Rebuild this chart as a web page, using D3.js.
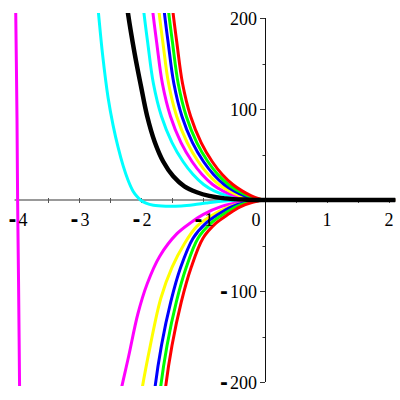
<!DOCTYPE html>
<html>
<head>
<meta charset="utf-8">
<script src="https://cdn.jsdelivr.net/npm/d3@7"></script>
<style>
  body { margin: 0; background: #fff; }
  text { font-family: "Liberation Serif", "DejaVu Serif", serif; font-size: 18px; fill: #000; }
</style>
</head>
<body>
<svg id="vis" width="400" height="400"></svg>
<script>
// tick values
const xTicks = [-4, -3, -2, -1, 0, 1, 2];
const xMinor = [-3.5, -2.5, -1.5, -0.5, 0.5, 1.5];
const yTicks = [-200, -100, 100, 200];
const yMinor = [-150, -50, 50, 150];

// curves, [x, y]
const redUp = [[-1.53, 240], [-1.49, 210], [-1.42, 172], [-1.33, 128], [-1.2, 92], [-1.03, 63], [-0.85, 42], [-0.69, 28], [-0.52, 17], [-0.37, 10], [-0.22, 4.5], [-0.1, 1.5], [0, 0], [0.4, 0], [2.1, 0]];
const greenUp = [[-1.6, 240], [-1.56, 210], [-1.49, 172], [-1.4, 128], [-1.27, 92], [-1.1, 63], [-0.92, 42], [-0.76, 28], [-0.59, 17], [-0.43, 10], [-0.27, 4.5], [-0.13, 1.5], [0, 0], [0.4, 0], [2.1, 0]];
const blueUp = [[-1.67, 240], [-1.63, 210], [-1.56, 172], [-1.47, 128], [-1.34, 92], [-1.17, 63], [-0.99, 42], [-0.83, 28], [-0.66, 17], [-0.5, 10], [-0.33, 4.5], [-0.17, 1.5], [0, 0], [0.4, 0], [2.1, 0]];
const yellowUp = [[-1.76, 240], [-1.715, 210], [-1.645, 172], [-1.555, 128], [-1.425, 92], [-1.255, 63], [-1.075, 42], [-0.915, 28], [-0.745, 17], [-0.58, 10], [-0.4, 4.5], [-0.22, 1.5], [0, 0], [0.4, 0], [2.1, 0]];
const magentaUp = [[-1.86, 240], [-1.815, 210], [-1.745, 172], [-1.655, 128], [-1.525, 92], [-1.355, 63], [-1.175, 42], [-1.015, 28], [-0.845, 17], [-0.68, 10], [-0.48, 4.5], [-0.28, 1.5], [0, 0], [0.4, 0], [2.1, 0]];
const cyanUp = [[-2.0, 240], [-1.96, 210], [-1.89, 172], [-1.8, 128], [-1.67, 92], [-1.5, 63], [-1.32, 42], [-1.16, 28], [-0.99, 17], [-0.82, 10], [-0.6, 4.5], [-0.35, 1.5], [0, 0], [0.4, 0], [2.1, 0]];
const blackUp = [[-2.27, 240], [-2.22, 210], [-2.1, 160], [-2.0, 125], [-1.9, 92], [-1.78, 64], [-1.64, 42], [-1.48, 26], [-1.3, 15], [-1.1, 8.5], [-0.9, 4.5], [-0.65, 1.8], [-0.3, 0.4], [0, 0], [0.4, 0], [2.1, 0]];

const cyanLeft = [[-2.74, 240], [-2.7, 215], [-2.62, 160], [-2.53, 112], [-2.45, 82], [-2.37, 58], [-2.29, 38], [-2.21, 22], [-2.13, 10], [-2.06, 3.5], [-2.0, -0.5], [-1.92, -3.5], [-1.8, -5.8], [-1.6, -6.8], [-1.35, -6.5], [-1.15, -5.2], [-0.95, -3.3], [-0.75, -1.6], [-0.55, -0.6], [-0.3, -0.1], [0, 0], [0.4, 0], [2.1, 0]];
const magentaLeft = [[-4.025, 230], [-4.0, 90], [-3.99, 0], [-3.975, -90], [-3.955, -230]];

const redDown = [[-1.65, -240], [-1.62, -215], [-1.5, -160], [-1.35, -112], [-1.19, -74], [-1.0, -42], [-0.8, -26], [-0.6, -16], [-0.4, -7.5], [-0.2, -2.5], [0, 0], [0.4, 0], [2.1, 0]];
const greenDown = [[-1.73, -240], [-1.7, -215], [-1.58, -160], [-1.43, -112], [-1.27, -74], [-1.08, -42], [-0.88, -26], [-0.68, -16], [-0.47, -7.5], [-0.25, -2.5], [0, 0], [0.4, 0], [2.1, 0]];
const blueDown = [[-1.82, -240], [-1.79, -215], [-1.67, -160], [-1.52, -112], [-1.36, -74], [-1.16, -42], [-0.96, -26], [-0.76, -16], [-0.54, -7.5], [-0.3, -2.5], [0, 0], [0.4, 0], [2.1, 0]];
const yellowDown = [[-2.04, -240], [-2.0, -215], [-1.85, -160], [-1.68, -108], [-1.5, -74], [-1.3, -48], [-1.1, -29], [-0.86, -17], [-0.6, -8], [-0.3, -2.5], [0, 0], [0.4, 0], [2.1, 0]];
const magentaDown = [[-2.4, -240], [-2.34, -215], [-2.2, -172], [-2.05, -125], [-1.9, -92], [-1.7, -62], [-1.42, -37], [-1.2, -25], [-1.0, -16], [-0.7, -7], [-0.4, -2.5], [0, 0], [0.4, 0], [2.1, 0]];

const series = [
  { pts: magentaLeft, color: "#ff00ff", width: 3 },
  { pts: cyanLeft, color: "#00ffff", width: 3 },
  { pts: magentaDown, color: "#ff00ff", width: 3 },
  { pts: yellowDown, color: "#ffff00", width: 3 },
  { pts: blueDown, color: "#0000ff", width: 3 },
  { pts: greenDown, color: "#00ff00", width: 3 },
  { pts: redDown, color: "#ff0000", width: 3 },
  { pts: cyanUp, color: "#00ffff", width: 3 },
  { pts: magentaUp, color: "#ff00ff", width: 3 },
  { pts: yellowUp, color: "#ffff00", width: 3 },
  { pts: blueUp, color: "#0000ff", width: 3 },
  { pts: greenUp, color: "#00ff00", width: 3 },
  { pts: redUp, color: "#ff0000", width: 3 },
  { pts: blackUp, color: "#000000", width: 4.5 }
];

const svg = d3.select("svg#vis");

const x = d3.scaleLinear().domain([-4, 2]).range([17, 389]);
const y = d3.scaleLinear().domain([-200, 200]).range([382, 18]);

// axes
svg.append("line")
  .attr("x1", x(-4.04)).attr("x2", x(2.1))
  .attr("y1", y(0)).attr("y2", y(0))
  .attr("stroke", "#777").attr("stroke-width", 1.6);

svg.append("line")
  .attr("x1", x(0) + 0.5).attr("x2", x(0) + 0.5)
  .attr("y1", y(200)).attr("y2", y(-200))
  .attr("stroke", "#111").attr("stroke-width", 1);

svg.selectAll("line.xtick")
  .data(xTicks.concat(xMinor).filter(d => d !== 0))
  .enter().append("line")
  .attr("class", "xtick")
  .attr("x1", d => Math.round(x(d)) + 0.5).attr("x2", d => Math.round(x(d)) + 0.5)
  .attr("y1", y(0) - 2).attr("y2", y(0) + 3)
  .attr("stroke", "#555");

svg.selectAll("line.ytick")
  .data(yTicks)
  .enter().append("line")
  .attr("class", "ytick")
  .attr("x1", x(0) - 5).attr("x2", x(0))
  .attr("y1", d => Math.round(y(d)) + 0.5).attr("y2", d => Math.round(y(d)) + 0.5)
  .attr("stroke", "#333");

svg.selectAll("line.yminor")
  .data(yMinor)
  .enter().append("line")
  .attr("class", "yminor")
  .attr("x1", x(0) - 2.5).attr("x2", x(0))
  .attr("y1", d => Math.round(y(d)) + 0.5).attr("y2", d => Math.round(y(d)) + 0.5)
  .attr("stroke", "#333");

// curves
svg.append("clipPath").attr("id", "plotclip")
  .append("rect").attr("x", 0).attr("y", 13).attr("width", 400).attr("height", 373);

const line = d3.line()
  .x(d => x(d[0]))
  .y(d => y(d[1]))
  .curve(d3.curveCatmullRom.alpha(0.5));

svg.append("g").attr("clip-path", "url(#plotclip)")
  .selectAll("path")
  .data(series)
  .enter().append("path")
  .attr("d", d => line(d.pts))
  .attr("fill", "none")
  .attr("stroke", d => d.color)
  .attr("stroke-width", d => d.width);

// labels, minus drawn as a short bold dash like the original
function label(sel, v) {
  if (v < 0) {
    sel.append("tspan").attr("font-family", "DejaVu Sans").attr("font-weight", "bold")
      .attr("font-size", 19).text("-");
    sel.append("tspan").attr("dx", 2).text(String(-v));
  } else {
    sel.text(String(v));
  }
}

svg.selectAll("text.xlab")
  .data(xTicks)
  .enter().append("text")
  .attr("class", "xlab")
  .attr("text-anchor", "middle")
  .attr("x", d => d === 0 ? x(0) - 9 : x(d) + (d < 0 ? 1 : 0))
  .attr("y", y(0) + 26)
  .each(function(d) { label(d3.select(this), d); });

svg.selectAll("text.ylab")
  .data(yTicks)
  .enter().append("text")
  .attr("class", "ylab")
  .attr("text-anchor", "end")
  .attr("x", x(0) - 8)
  .attr("y", d => y(d) + 7)
  .each(function(d) { label(d3.select(this), d); });
</script>
</body>
</html>
